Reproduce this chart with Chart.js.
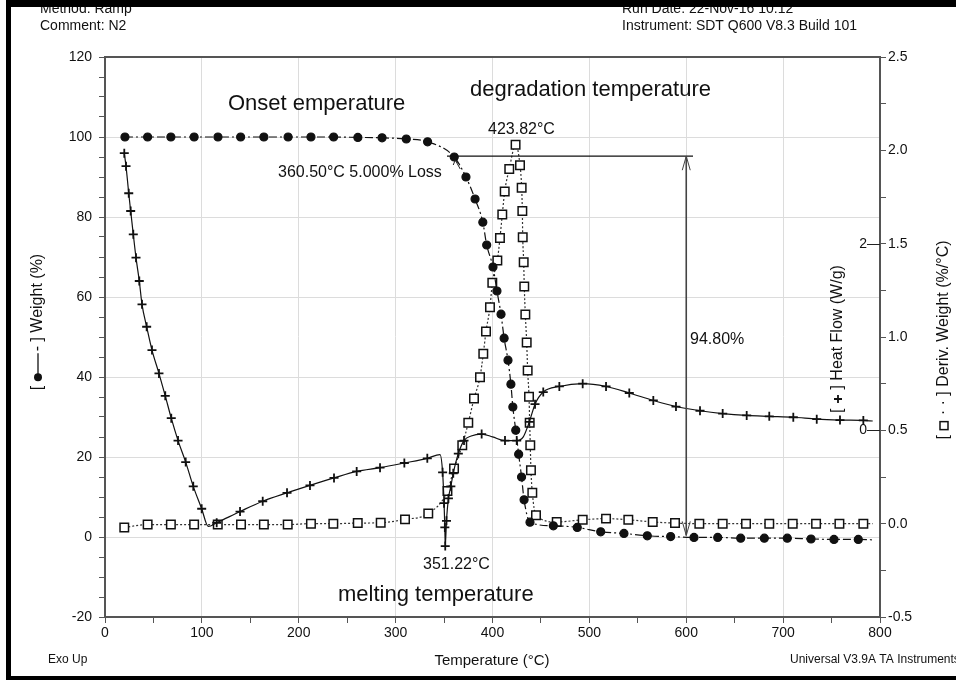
<!DOCTYPE html>
<html>
<head>
<meta charset="utf-8">
<script src="https://cdn.jsdelivr.net/npm/chart.js@4.4.1/dist/chart.umd.min.js"></script>
<style>
  html, body { margin: 0; padding: 0; background: #fff; }
  #wrap { width: 956px; height: 680px; }
</style>
</head>
<body>
<div id="wrap"><canvas id="tga" width="956" height="680"></canvas></div>
<script>
// weight (%) vs temperature (°C)
const weightTemp = [20.6, 44, 68, 92, 116.6, 140, 164, 189, 212.6, 236, 261, 286, 311, 333, 360.5,
  372.6, 382, 390, 394, 400.5, 404.6, 408.8, 412, 416, 419, 421, 424, 427, 430, 432.6,
  438.7, 462.8, 487.5, 511.7, 535.7, 559.8, 583.9, 608, 632.5, 656.2, 680.6, 704.3, 728.8, 752.5, 777.6, 792.5];
const weightVal = [100, 100, 100, 100, 100, 100, 100, 100, 100, 100, 99.9, 99.8, 99.5, 98.8, 95.0,
  90, 84.5, 78.7, 73, 67.5, 61.5, 55.7, 49.7, 44.2, 38.2, 32.5, 26.7, 20.7, 15, 9.3,
  3.7, 2.8, 2.4, 1.3, 0.9, 0.3, 0.1, -0.1, -0.1, -0.3, -0.3, -0.3, -0.5, -0.6, -0.6, -0.7];

// heat flow (W/g)
const heatTemp = [19.9, 21.7, 24.5, 26.5, 29.2, 32, 35.4, 38.2, 43, 48.5, 55.7, 62.2, 68.4, 75.4, 83.3,
  91.1, 99.8, 106.6, 115.3, 139.4, 162.8, 187.9, 211.6, 236.4, 259.8, 283.9, 309, 332.7, 345.8, 348.5,
  350, 350.8, 351.22, 352.5, 354.5, 357, 359.5, 364.7, 370.6, 378, 388.8, 400, 412.9, 425, 431.8,
  438, 443.9, 452.4, 469, 493.1, 517.2, 541.2, 566, 589.4, 614.2, 637.6, 662.4, 685.7, 710.5, 734.7,
  758.7, 782.8, 792.5];
const heatVal = [2.97, 2.83, 2.54, 2.35, 2.10, 1.85, 1.60, 1.35, 1.11, 0.86, 0.61, 0.37, 0.13, -0.11, -0.34,
  -0.60, -0.84, -1.03, -0.99, -0.87, -0.76, -0.67, -0.59, -0.51, -0.44, -0.40, -0.35, -0.30, -0.26, -0.45,
  -0.78, -1.04, -1.24, -0.97, -0.73, -0.60, -0.46, -0.25, -0.11, -0.06, -0.04, -0.07, -0.11, -0.11, -0.07,
  0.09, 0.28, 0.41, 0.47, 0.50, 0.47, 0.40, 0.32, 0.255, 0.21, 0.18, 0.16, 0.15, 0.14, 0.12,
  0.11, 0.106, 0.10];
// heat flow points drawn without a symbol
const heatBare = [106.6, 345.8, 378, 400, 431.8, 792.5];

// derivative weight (%/°C)
const derivTemp = [19.9, 44, 68, 92, 116.4, 140.4, 164, 188.6, 212.6, 235.7, 260.9, 284.6, 309.7, 333.7, 353.5,
  360.3, 368.8, 375, 380.9, 387.1, 390.5, 393.3, 397.4, 399.8, 405, 407.7, 410.1, 412.6, 417.3, 423.82,
  428.4, 430.1, 430.8, 431.2, 432.2, 432.8, 433.9, 435.3, 436.3, 437.7, 438.4, 439, 439.7, 441.1, 444.9,
  466.3, 493.1, 517.2, 540.2, 565.4, 588.4, 613.5, 637.6, 661.7, 685.7, 709.9, 734, 758.1, 782.8, 792.5];
const derivVal = [-0.02, -0.005, -0.005, -0.005, -0.005, -0.005, -0.005, -0.005, 0, 0, 0.003, 0.005, 0.023, 0.054, 0.175,
  0.295, 0.42, 0.54, 0.67, 0.785, 0.91, 1.03, 1.16, 1.29, 1.41, 1.53, 1.656, 1.78, 1.90, 2.03,
  1.92, 1.80, 1.675, 1.535, 1.40, 1.27, 1.12, 0.97, 0.82, 0.68, 0.54, 0.42, 0.286, 0.166, 0.045,
  0.009, 0.021, 0.027, 0.021, 0.009, 0.003, 0, 0, 0, 0, 0, 0, 0, 0, 0];

// step analysis: 5% loss line and total loss arrow
const lossTemp = [353, 607];
const lossLevel = 95.2;
const stepTemp = 600;
const stepLoss = 94.80;
const heatTickVals = [0, 2];

const FONT = '"Liberation Sans", Arial, sans-serif';
const AXIS = '#555';
const GRID = '#dcdcdc';

const pts = (xs, ys) => xs.map((x, i) => ({ x, y: ys[i] }));
const isStep = (v, s) => Math.abs(v / s - Math.round(v / s)) < 1e-6;

// outer frame, header/footer texts, axis titles, annotations
const decor = {
  id: 'decor',
  beforeDraw(chart) {
    const c = chart.ctx;
    c.save();
    c.fillStyle = '#fff';
    c.fillRect(0, 0, chart.width, chart.height);
    c.restore();
  },
  afterDraw(chart) {
    const c = chart.ctx;
    const a = chart.chartArea;
    const sx = chart.scales.x, sw = chart.scales.y, sh = chart.scales.yHeat;
    c.save();

    // top border of the plot box
    c.strokeStyle = AXIS; c.lineWidth = 2;
    c.beginPath(); c.moveTo(a.left, a.top); c.lineTo(a.right, a.top); c.stroke();

    // heat flow ticks and labels, drawn inside the plot
    c.strokeStyle = '#222'; c.lineWidth = 1;
    c.fillStyle = '#111';
    c.font = '14px ' + FONT;
    c.textAlign = 'right';
    c.textBaseline = 'middle';
    heatTickVals.forEach(v => {
      const y = Math.round(sh.getPixelForValue(v)) + 0.5;
      c.beginPath(); c.moveTo(a.right - 13, y); c.lineTo(a.right, y); c.stroke();
      c.fillText(String(v), a.right - 13, y);
    });

    // header
    c.textAlign = 'left';
    c.fillText('Method: Ramp', 40, 9);
    c.fillText('Run Date: 22-Nov-16 10:12', 622, 9);
    c.fillText('Comment: N2', 40, 26);
    c.fillText('Instrument: SDT Q600 V8.3 Build 101', 622, 26);

    // footer
    c.font = '12px ' + FONT;
    c.fillText('Exo Up', 48, 660);
    c.fillText('Universal V3.9A TA Instruments', 790, 660);
    c.font = '15px ' + FONT;
    c.textAlign = 'center';
    c.fillText('Temperature (°C)', 492, 661);

    // rotated axis titles with their line symbols
    const vTitle = (cx, cy, pre, markW, mark, post) => {
      c.save();
      c.translate(cx, cy);
      c.rotate(-Math.PI / 2);
      c.font = '16px ' + FONT;
      c.textAlign = 'left';
      const w1 = c.measureText(pre).width, w2 = c.measureText(post).width;
      let x = -(w1 + markW + w2) / 2;
      c.fillText(pre, x, 0);
      x += w1;
      mark(x);
      x += markW;
      c.fillText(post, x, 0);
      c.restore();
    };
    vTitle(38, 322, '[ ', 30, x => {
      c.beginPath(); c.arc(x + 4, 0, 4, 0, Math.PI * 2); c.fill();
      c.lineWidth = 1.3; c.strokeStyle = '#111';
      c.beginPath(); c.moveTo(x + 4, 0); c.lineTo(x + 28, 0); c.stroke();
    }, '- ] Weight (%)');
    vTitle(944, 340, '[ ', 11, x => {
      c.lineWidth = 1.5; c.strokeStyle = '#111';
      c.strokeRect(x + 1, -4, 8, 8);
    }, ' · · ] Deriv. Weight (%/°C)');
    vTitle(838, 339, '[ ', 10, x => {
      c.lineWidth = 1.8; c.strokeStyle = '#111';
      c.beginPath();
      c.moveTo(x + 1, 0); c.lineTo(x + 9, 0);
      c.moveTo(x + 5, -4); c.lineTo(x + 5, 4);
      c.stroke();
    }, ' ] Heat Flow (W/g)');

    // 5% loss line and total-loss arrow
    c.strokeStyle = '#111'; c.lineWidth = 1.2;
    const yTop = sw.getPixelForValue(lossLevel);
    const yBot = sw.getPixelForValue(lossLevel - stepLoss);
    const xs = sx.getPixelForValue(stepTemp);
    c.beginPath();
    c.moveTo(sx.getPixelForValue(lossTemp[0]), yTop);
    c.lineTo(sx.getPixelForValue(lossTemp[1]), yTop);
    c.stroke();
    c.strokeStyle = '#444'; c.lineWidth = 1.6;
    c.beginPath(); c.moveTo(xs, yTop); c.lineTo(xs, yBot); c.stroke();
    c.lineWidth = 1;
    c.beginPath();
    c.moveTo(xs - 4, yTop + 14); c.lineTo(xs, yTop); c.lineTo(xs + 4, yTop + 14);
    c.moveTo(xs - 4, yBot - 14); c.lineTo(xs, yBot); c.lineTo(xs + 4, yBot - 14);
    c.stroke();

    // pointer from the 5% label to its point
    const px = sx.getPixelForValue(360.5), py = sw.getPixelForValue(95.0);
    c.strokeStyle = '#222';
    c.beginPath();
    c.moveTo(px + 6, py + 12); c.lineTo(px + 1, py + 3);
    c.moveTo(px - 1, py + 8); c.lineTo(px + 1, py + 3); c.lineTo(px + 5, py + 7);
    c.stroke();

    // annotations
    c.fillStyle = '#111';
    c.textAlign = 'left';
    c.font = '22px ' + FONT;
    c.fillText('Onset emperature', 228, 104);
    c.fillText('degradation temperature', 470, 90);
    c.fillText('melting temperature', 338, 595);
    c.font = '16px ' + FONT;
    c.fillText('423.82°C', 488, 130);
    c.fillText('360.50°C 5.000% Loss', 278, 173);
    c.fillText('94.80%', 690, 340);
    c.fillText('351.22°C', 423, 565);

    c.restore();
  }
};

new Chart(document.getElementById('tga'), {
  type: 'line',
  data: {
    datasets: [
      {
        label: 'Weight',
        data: pts(weightTemp, weightVal),
        yAxisID: 'y',
        borderColor: '#111',
        borderWidth: 1.2,
        borderDash: [8, 3, 2, 3],
        pointStyle: 'circle',
        pointRadius: ctx => (ctx.dataIndex === weightTemp.length - 1 ? 0 : 4),
        pointBackgroundColor: '#111',
        pointBorderColor: '#111',
        cubicInterpolationMode: 'monotone'
      },
      {
        label: 'Heat Flow',
        data: pts(heatTemp, heatVal),
        yAxisID: 'yHeat',
        borderColor: '#111',
        borderWidth: 1.2,
        pointStyle: 'cross',
        pointRadius: ctx => (heatBare.includes(heatTemp[ctx.dataIndex]) ? 0 : 4.5),
        pointBorderColor: '#111',
        pointBorderWidth: 1.8,
        cubicInterpolationMode: 'monotone'
      },
      {
        label: 'Deriv. Weight',
        data: pts(derivTemp, derivVal),
        yAxisID: 'yDeriv',
        borderColor: '#333',
        borderWidth: 1.2,
        borderDash: [2, 2],
        pointStyle: 'rect',
        pointRadius: ctx => (ctx.dataIndex === derivTemp.length - 1 ? 0 : 6),
        pointBackgroundColor: '#fff',
        pointBorderColor: '#111',
        pointBorderWidth: 1.5,
        cubicInterpolationMode: 'monotone'
      }
    ]
  },
  options: {
    responsive: false,
    animation: false,
    devicePixelRatio: 1,
    layout: { padding: { top: 57, left: 0, right: 0, bottom: 0 }, autoPadding: false },
    plugins: { legend: { display: false }, tooltip: { enabled: false } },
    scales: {
      x: {
        type: 'linear',
        min: 0, max: 800,
        border: { color: AXIS, width: 2 },
        grid: {
          color: c => (c.tick && isStep(c.tick.value, 100) ? GRID : 'rgba(0,0,0,0)'),
          tickColor: AXIS, tickLength: 6
        },
        ticks: {
          stepSize: 50, autoSkip: false, maxRotation: 0, padding: 2,
          color: '#111', font: { size: 14, family: FONT },
          callback: v => (isStep(v, 100) ? v : '')
        },
        afterFit: s => { s.height = 63; }
      },
      y: {
        position: 'left',
        min: -20, max: 120,
        border: { color: AXIS, width: 2 },
        grid: {
          color: c => (c.tick && isStep(c.tick.value, 20) ? GRID : 'rgba(0,0,0,0)'),
          tickColor: AXIS, tickLength: 6
        },
        ticks: {
          stepSize: 5, autoSkip: false, padding: 7,
          color: '#111', font: { size: 14, family: FONT },
          callback: v => (isStep(v, 20) ? v : '')
        },
        afterFit: s => { s.width = 105; }
      },
      yHeat: {
        position: 'right',
        weight: 0,
        min: -2, max: 4,
        display: true,
        border: { display: false },
        grid: { display: false, drawTicks: false },
        ticks: { display: false },
        afterFit: s => { s.width = 0; }
      },
      yDeriv: {
        position: 'right',
        weight: 1,
        min: -0.5, max: 2.5,
        border: { color: AXIS, width: 2 },
        grid: { drawOnChartArea: false, tickColor: AXIS, tickLength: 6 },
        ticks: {
          stepSize: 0.25, autoSkip: false, padding: 2,
          color: '#111', font: { size: 14, family: FONT },
          callback: v => (isStep(v, 0.5) ? v.toFixed(1) : '')
        },
        afterFit: s => { s.width = 76; }
      }
    }
  },
  plugins: [decor]
});

// black frame around the page
const cv = document.getElementById('tga');
const fc = cv.getContext('2d');
fc.fillStyle = '#000';
fc.fillRect(6, 0, 950, 7);
fc.fillRect(6, 0, 5, 680);
fc.fillRect(6, 676, 950, 4);
</script>
</body>
</html>
